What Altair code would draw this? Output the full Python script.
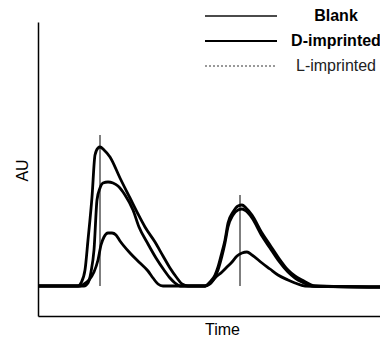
import altair as alt
import pandas as pd

# time axis (arbitrary units) and AU values for the three traces
tall_t = [0, 40, 43, 47, 50, 54, 57, 60, 62, 66, 72, 82, 92, 100, 107, 117, 125, 132, 139, 144, 150,
          167, 172, 177, 180, 184, 187, 190, 195, 200, 204, 208, 214, 224, 232, 240, 250, 257, 264, 277, 342]
tall_v = [0, 0, 3, 16, 46, 89, 131, 138, 139, 136, 129, 108, 88, 72, 59, 44, 30, 18, 8, 2, 0,
          0, 4, 11, 19, 34, 46, 63, 74, 80, 81, 78, 71, 53, 41, 29, 16, 10, 6, 0, -1]

mid_t = [0, 46, 50, 53, 56, 59, 62, 65, 70, 75, 80, 87, 95, 101, 110, 118, 126, 132, 137, 142,
         167, 172, 177, 180, 184, 187, 190, 195, 200, 204, 208, 214, 224, 232, 240, 250, 257, 264, 274, 342]
mid_v = [0, 0, 3, 14, 36, 86, 98, 103, 104, 103, 100, 91, 76, 59, 42, 28, 16, 8, 3, 0,
         0, 3, 9, 16, 30, 43, 59, 71, 76, 77, 75, 68, 50, 38, 26, 14, 8, 4, 0, -1]

small_t = [0, 42, 46, 51, 56, 60, 63, 66, 70, 74, 78, 82, 92, 102, 110, 115, 120, 125,
           167, 172, 177, 184, 190, 194, 199, 204, 209, 214, 224, 232, 240, 250, 257, 267, 342]
small_v = [0, 0, 2, 6, 14, 26, 41, 49, 53, 53, 51, 45, 33, 23, 15, 8, 2, 0,
           0, 2, 8, 14, 20, 24, 30, 33, 34, 31, 23, 17, 11, 6, 3, 0, -1]

marker_t = [62, 202]
marker_top = [151, 91]

legend_names = ["Blank", "D-imprinted", "L-imprinted"]

rows = []
for name, ts, vs in [("D-imprinted", tall_t, tall_v), ("Blank", mid_t, mid_v), ("L-imprinted", small_t, small_v)]:
    for t, v in zip(ts, vs):
        rows.append({"series": name, "t": t, "v": v})
curves = pd.DataFrame(rows)
markers = pd.DataFrame({"t": marker_t, "top": marker_top})
leg = pd.DataFrame({"name": legend_names})

xscale = alt.Scale(domain=[0, 342], nice=False, zero=False)
yscale = alt.Scale(domain=[-30, 264], nice=False, zero=False)

lines = alt.Chart(curves).mark_line(color="black", strokeWidth=2.8, interpolate="monotone").encode(
    x=alt.X("t:Q", scale=xscale, axis=alt.Axis(title="Time", ticks=False, labels=False, grid=False,
                                                 domainColor="black", domainWidth=1.5,
                                                 titleFont="Liberation Sans", titleFontSize=16,
                                                 titleFontWeight="normal", titleColor="black",
                                                 titleX=184, titleY=13, titleBaseline="middle",
                                                 titleAlign="center")),
    y=alt.Y("v:Q", scale=yscale, axis=alt.Axis(title="AU", ticks=False, labels=False, grid=False,
                                                 domainColor="black", domainWidth=1.5,
                                                 titleFont="Liberation Sans", titleFontSize=16,
                                                 titleFontWeight="normal", titleColor="black",
                                                 titleX=-16, titleY=148, titleAngle=270,
                                                 titleBaseline="middle", titleAlign="center")),
    detail="series:N",
)

rules = alt.Chart(markers).mark_rule(color="black", strokeWidth=1).encode(
    x=alt.X("t:Q", scale=xscale),
    y=alt.Y("top:Q", scale=yscale),
    y2=alt.datum(0),
)

leg_y = alt.Y("name:N", scale=alt.Scale(type="point", domain=legend_names, range=[-6, 44], padding=0), axis=None)

leg_lines = alt.Chart(leg).mark_rule().encode(
    x=alt.value(167), x2=alt.value(239),
    y=leg_y,
    color=alt.Color("name:N", scale=alt.Scale(domain=legend_names, range=["#111111", "#000000", "#999999"]), legend=None),
    strokeWidth=alt.StrokeWidth("name:N", scale=alt.Scale(domain=legend_names, range=[1.4, 2.2, 1.4]), legend=None),
    strokeDash=alt.StrokeDash("name:N", scale=alt.Scale(domain=legend_names, range=[[1, 0], [1, 0], [2, 2]]), legend=None),
)

leg_bold = alt.Chart(leg).transform_filter(alt.datum.name != "L-imprinted").mark_text(
    align="center", baseline="middle", font="Liberation Sans", fontSize=16, fontWeight="bold", color="black"
).encode(x=alt.value(298), y=leg_y, text="name:N")

leg_norm = alt.Chart(leg).transform_filter(alt.datum.name == "L-imprinted").mark_text(
    align="center", baseline="middle", font="Liberation Sans", fontSize=16, fontWeight="normal", color="#222222"
).encode(x=alt.value(298), y=leg_y, text="name:N")

chart = alt.layer(lines, rules, leg_lines, leg_bold, leg_norm).resolve_scale(
    y="independent", color="independent", strokeWidth="independent", strokeDash="independent"
).properties(
    width=342, height=294,
    autosize=alt.AutoSizeParams(type="none"),
    padding={"left": 30, "top": 14, "right": 0, "bottom": 22},
    background="white",
).configure_view(stroke=None)

chart.save("out.html", embed_options={"renderer": "svg", "actions": False})
